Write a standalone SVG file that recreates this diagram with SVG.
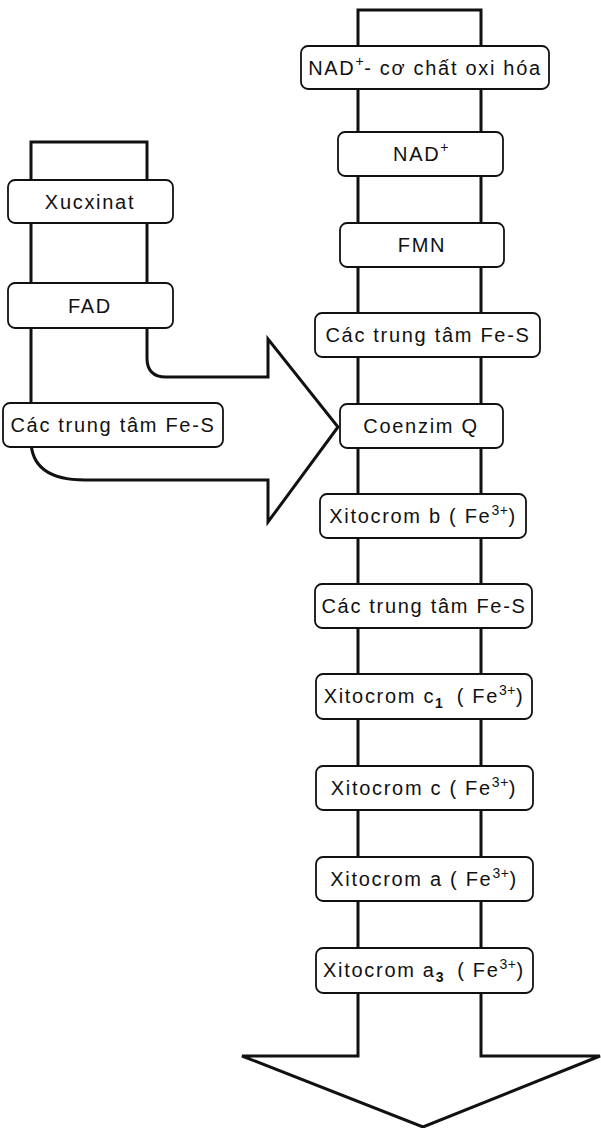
<svg xmlns="http://www.w3.org/2000/svg" width="601" height="1128" viewBox="0 0 601 1128">
<style>
.ln{fill:none;stroke:#111;stroke-width:3;stroke-linejoin:miter}
.bx{fill:#fff;stroke:#111;stroke-width:1.8}
.t{font-family:"Liberation Sans",Arial,sans-serif;font-size:20px;letter-spacing:1.7px;fill:#111;text-anchor:middle}
.s{font-size:14px;letter-spacing:0.5px}
</style>
<rect width="601" height="1128" fill="#fff"/>
<g id="connectors">
<path class="ln" d="M242,1056 H358 V10 H481 V1056 H600 L423,1127 Z"/>
<path class="ln" d="M268,480 H85 Q31,480 31,440 V142 H147 V358 Q147,377 166,377 H268 V339 L338,427 L268,522 Z"/>
</g>
<g id="n1"><rect class="bx" x="301" y="46" width="248" height="43" rx="7"/><text class="t" x="425" y="75">NAD<tspan class="s" dy="-9">+</tspan><tspan dy="9">- cơ chất oxi hóa</tspan></text></g>
<g id="n2"><rect class="bx" x="338" y="132" width="165" height="44" rx="7"/><text class="t" x="421" y="161">NAD<tspan class="s" dy="-9">+</tspan></text></g>
<g id="n3"><rect class="bx" x="340" y="223" width="164" height="44" rx="7"/><text class="t" x="422" y="252">FMN</text></g>
<g id="n4"><rect class="bx" x="315" y="313" width="225" height="44" rx="7"/><text class="t" x="428" y="342">Các trung tâm Fe-S</text></g>
<g id="n5"><rect class="bx" x="340" y="404" width="163" height="44" rx="7"/><text class="t" x="421" y="433">Coenzim Q</text></g>
<g id="n6"><rect class="bx" x="320" y="494" width="206" height="44" rx="7"/><text class="t" x="423" y="523">Xitocrom b ( Fe<tspan class="s" dy="-8">3+</tspan><tspan dy="8">)</tspan></text></g>
<g id="n7"><rect class="bx" x="315" y="584" width="217" height="44" rx="7"/><text class="t" x="424" y="613">Các trung tâm Fe-S</text></g>
<g id="n8"><rect class="bx" x="316" y="674" width="216" height="45" rx="7"/><text class="t" x="424" y="703">Xitocrom c<tspan class="s" dy="5" font-weight="bold">1</tspan><tspan dy="-5" dx="6"> ( Fe</tspan><tspan class="s" dy="-8">3+</tspan><tspan dy="8">)</tspan></text></g>
<g id="n9"><rect class="bx" x="316" y="766" width="217" height="44" rx="7"/><text class="t" x="424" y="795">Xitocrom c ( Fe<tspan class="s" dy="-8">3+</tspan><tspan dy="8">)</tspan></text></g>
<g id="n10"><rect class="bx" x="316" y="857" width="217" height="44" rx="7"/><text class="t" x="424" y="886">Xitocrom a ( Fe<tspan class="s" dy="-8">3+</tspan><tspan dy="8">)</tspan></text></g>
<g id="n11"><rect class="bx" x="316" y="948" width="217" height="45" rx="7"/><text class="t" x="424" y="977">Xitocrom a<tspan class="s" dy="5" font-weight="bold">3</tspan><tspan dy="-5" dx="6"> ( Fe</tspan><tspan class="s" dy="-8">3+</tspan><tspan dy="8">)</tspan></text></g>
<g id="l1"><rect class="bx" x="8" y="180" width="165" height="43" rx="7"/><text class="t" x="90" y="209">Xucxinat</text></g>
<g id="l2"><rect class="bx" x="8" y="283" width="165" height="45" rx="7"/><text class="t" x="90" y="313">FAD</text></g>
<g id="l3"><rect class="bx" x="3" y="403" width="220" height="44" rx="7"/><text class="t" x="113" y="432">Các trung tâm Fe-S</text></g>
</svg>
